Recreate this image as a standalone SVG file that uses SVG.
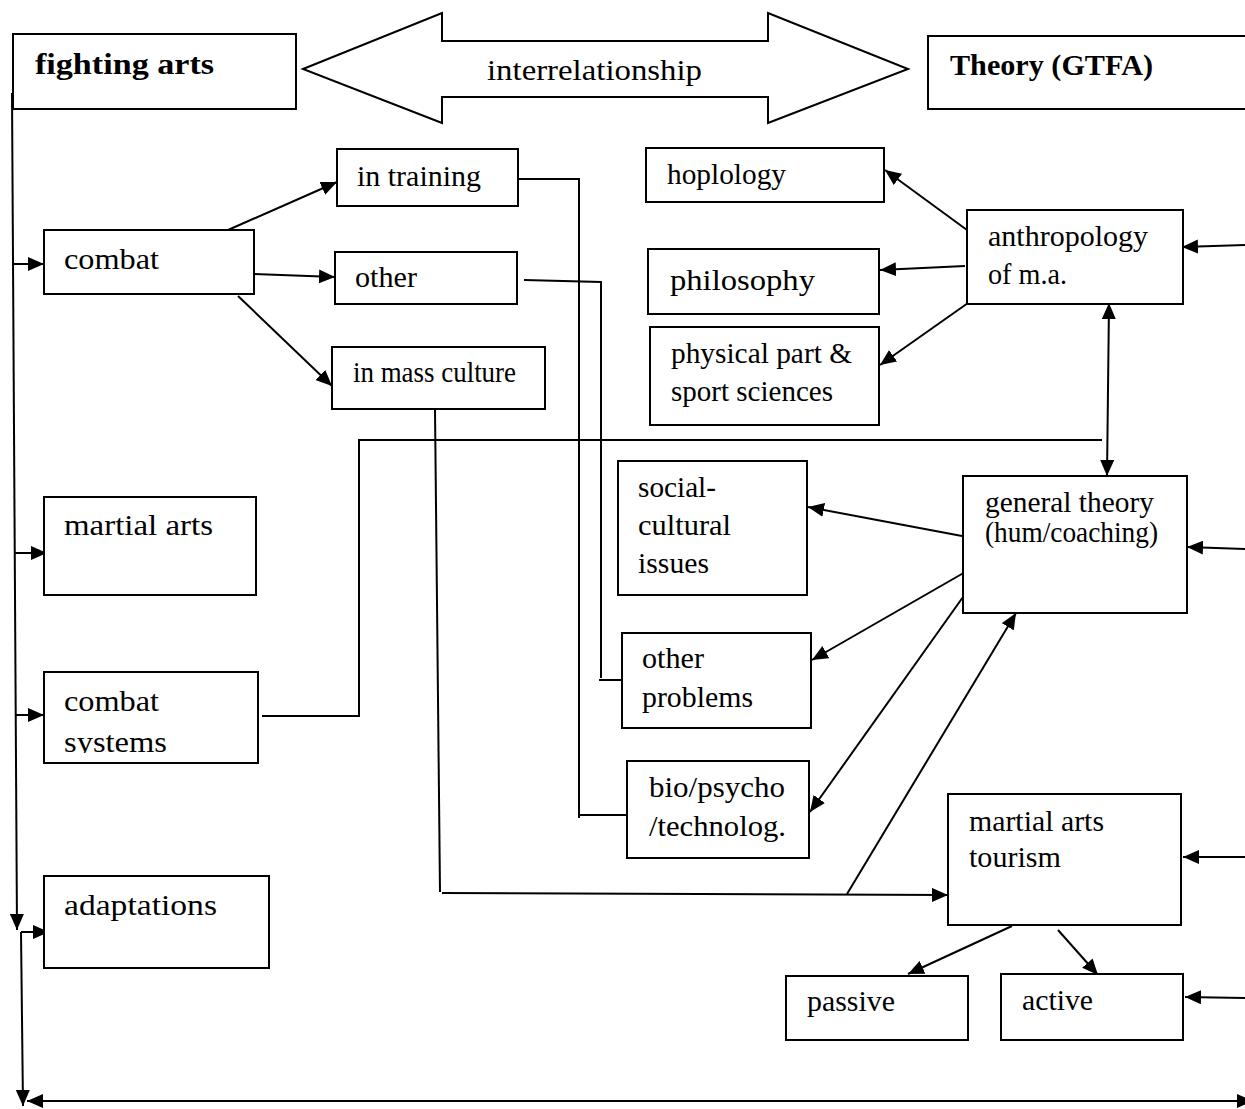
<svg xmlns="http://www.w3.org/2000/svg" width="1245" height="1109" viewBox="0 0 1245 1109">
<style>
.box{fill:#fff;stroke:#000;stroke-width:2}
.t{font-family:"Liberation Serif","Times New Roman",serif;font-size:29px;fill:#000}
.b{font-weight:bold;font-size:29px}
.c{fill:none;stroke:#000;stroke-width:2}
.a{marker-end:url(#ah)}
.d{marker-start:url(#ah);marker-end:url(#ah)}
</style>
<defs>
<marker id="ah" viewBox="0 0 16 14" refX="16" refY="7" markerWidth="16" markerHeight="14" markerUnits="userSpaceOnUse" orient="auto-start-reverse">
<path d="M0,0 L16,7 L0,14 Z" fill="#000"/>
</marker>
<clipPath id="csclip"><rect x="44" y="672" width="214" height="81"/></clipPath>
</defs>
<rect width="1245" height="1109" fill="#fff"/>

<g id="connectors">
<path class="c a" d="M12,93 L17,930"/>
<path class="c a" d="M13,264 H44"/>
<path class="c a" d="M14,553 H47"/>
<path class="c a" d="M16,715 H44"/>
<path class="c a" d="M21,932 H49"/>
<path class="c a" d="M21,932 L23,1106"/>
<path class="c d" d="M27,1101 L1253,1101"/>
<path class="c a" d="M228,230 L337,182"/>
<path class="c a" d="M254,274 L335,277"/>
<path class="c a" d="M238,296 L332,386"/>
<path class="c" d="M519,179 H579 V818"/>
<path class="c" d="M580,815 H627"/>
<path class="c" d="M524,280 L601,282 V678"/>
<path class="c" d="M599,680 H622"/>
<path class="c" d="M435,409 L440,892"/>
<path class="c a" d="M442,893 L948,895"/>
<path class="c" d="M262,716 H359 V439"/>
<path class="c" d="M358,440 H1102"/>
<path class="c d" d="M1109,303 L1107,476"/>
<path class="c a" d="M967,230 L885,170"/>
<path class="c a" d="M965,266 L880,270"/>
<path class="c a" d="M968,303 L880,365"/>
<path class="c a" d="M962,536 L808,507"/>
<path class="c a" d="M967,571 L812,660"/>
<path class="c a" d="M963,597 L810,812"/>
<path class="c a" d="M847,894 L1016,613"/>
<path class="c a" d="M1012,926 L908,974"/>
<path class="c a" d="M1058,930 L1098,975"/>
<path class="c a" d="M1245,245 L1182,247"/>
<path class="c a" d="M1245,549 L1187,547"/>
<path class="c a" d="M1245,857 L1183,857"/>
<path class="c a" d="M1245,998 L1185,997"/>
</g>

<g id="fighting-arts">
<rect class="box" x="13" y="34" width="283" height="75"/>
<text class="t b" x="35" y="74" textLength="179" lengthAdjust="spacingAndGlyphs">fighting arts</text>
</g>
<g id="interrelationship">
<polygon class="box" points="303,69 442,13 442,41 768,41 768,13 908,69 768,123 768,97 442,97 442,123"/>
<text class="t" x="487" y="80" textLength="215" lengthAdjust="spacingAndGlyphs">interrelationship</text>
</g>
<g id="theory">
<rect class="box" x="928" y="36" width="322" height="73"/>
<text class="t b" x="950" y="75" textLength="203" lengthAdjust="spacingAndGlyphs">Theory (GTFA)</text>
</g>
<g id="combat">
<rect class="box" x="44" y="230" width="210" height="64"/>
<text class="t" x="64" y="269" font-size="30" textLength="95" lengthAdjust="spacingAndGlyphs">combat</text>
</g>
<g id="in-training">
<rect class="box" x="337" y="149" width="181" height="57"/>
<text class="t" x="357" y="186" textLength="124" lengthAdjust="spacingAndGlyphs">in training</text>
</g>
<g id="other">
<rect class="box" x="335" y="252" width="182" height="52"/>
<text class="t" x="355" y="287" textLength="62" lengthAdjust="spacingAndGlyphs">other</text>
</g>
<g id="in-mass-culture">
<rect class="box" x="332" y="347" width="213" height="62"/>
<text class="t" x="353" y="382" font-size="24" textLength="163" lengthAdjust="spacingAndGlyphs">in mass culture</text>
</g>
<g id="martial-arts">
<rect class="box" x="44" y="497" width="212" height="98"/>
<text class="t" x="64" y="535" font-size="30" textLength="149" lengthAdjust="spacingAndGlyphs">martial arts</text>
</g>
<g id="combat-systems">
<rect class="box" x="44" y="672" width="214" height="91"/>
<text class="t" x="64" y="711" font-size="30" textLength="95" lengthAdjust="spacingAndGlyphs">combat</text>
<text class="t" x="64" y="752" font-size="30" textLength="103" lengthAdjust="spacingAndGlyphs" clip-path="url(#csclip)">systems</text>
</g>
<g id="adaptations">
<rect class="box" x="44" y="876" width="225" height="92"/>
<text class="t" x="64" y="915" font-size="30" textLength="153" lengthAdjust="spacingAndGlyphs">adaptations</text>
</g>
<g id="hoplology">
<rect class="box" x="646" y="148" width="238" height="54"/>
<text class="t" x="667" y="184" textLength="119" lengthAdjust="spacingAndGlyphs">hoplology</text>
</g>
<g id="philosophy">
<rect class="box" x="648" y="249" width="231" height="65"/>
<text class="t" x="670" y="290" font-size="31" textLength="145" lengthAdjust="spacingAndGlyphs">philosophy</text>
</g>
<g id="physical">
<rect class="box" x="650" y="327" width="229" height="98"/>
<text class="t" x="671" y="363" textLength="181" lengthAdjust="spacingAndGlyphs">physical part &amp;</text>
<text class="t" x="671" y="401" textLength="162" lengthAdjust="spacingAndGlyphs">sport sciences</text>
</g>
<g id="anthropology">
<rect class="box" x="967" y="210" width="216" height="94"/>
<text class="t" x="988" y="246" textLength="160" lengthAdjust="spacingAndGlyphs">anthropology</text>
<text class="t" x="988" y="284" textLength="79" lengthAdjust="spacingAndGlyphs">of m.a.</text>
</g>
<g id="social-cultural">
<rect class="box" x="618" y="461" width="189" height="134"/>
<text class="t" x="638" y="497" textLength="78" lengthAdjust="spacingAndGlyphs">social-</text>
<text class="t" x="638" y="535" textLength="93" lengthAdjust="spacingAndGlyphs">cultural</text>
<text class="t" x="638" y="573" textLength="71" lengthAdjust="spacingAndGlyphs">issues</text>
</g>
<g id="general-theory">
<rect class="box" x="963" y="476" width="224" height="137"/>
<text class="t" x="985" y="512" textLength="169" lengthAdjust="spacingAndGlyphs">general theory</text>
<text class="t" x="985" y="542" font-size="24" textLength="173" lengthAdjust="spacingAndGlyphs">(hum/coaching)</text>
</g>
<g id="other-problems">
<rect class="box" x="622" y="633" width="189" height="95"/>
<text class="t" x="642" y="668" textLength="62" lengthAdjust="spacingAndGlyphs">other</text>
<text class="t" x="642" y="707" textLength="111" lengthAdjust="spacingAndGlyphs">problems</text>
</g>
<g id="bio-psycho">
<rect class="box" x="627" y="761" width="182" height="97"/>
<text class="t" x="649" y="797" textLength="136" lengthAdjust="spacingAndGlyphs">bio/psycho</text>
<text class="t" x="649" y="836" textLength="137" lengthAdjust="spacingAndGlyphs">/technolog.</text>
</g>
<g id="tourism">
<rect class="box" x="948" y="794" width="233" height="131"/>
<text class="t" x="969" y="831" textLength="135" lengthAdjust="spacingAndGlyphs">martial arts</text>
<text class="t" x="969" y="867" textLength="92" lengthAdjust="spacingAndGlyphs">tourism</text>
</g>
<g id="passive">
<rect class="box" x="786" y="976" width="182" height="64"/>
<text class="t" x="807" y="1011" textLength="88" lengthAdjust="spacingAndGlyphs">passive</text>
</g>
<g id="active">
<rect class="box" x="1001" y="974" width="182" height="66"/>
<text class="t" x="1022" y="1010" textLength="71" lengthAdjust="spacingAndGlyphs">active</text>
</g>
</svg>
